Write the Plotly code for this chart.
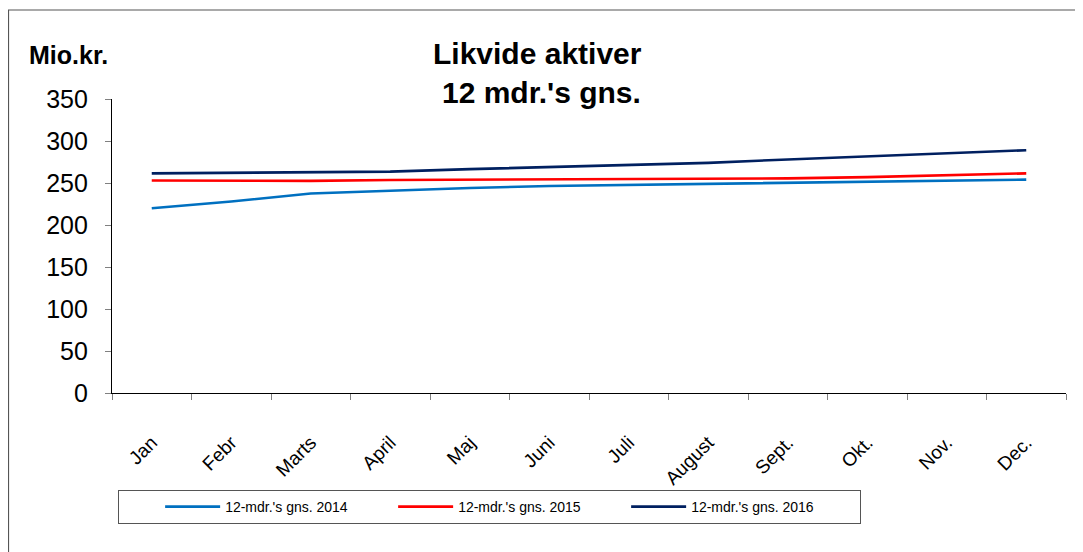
import plotly.graph_objects as go

months = ["Jan", "Febr", "Marts", "April", "Maj", "Juni", "Juli", "August", "Sept.", "Okt.", "Nov.", "Dec."]
s2014 = [220, 228, 237.5, 241, 244, 246.5, 247.7, 248.5, 250, 251, 252.5, 254]
s2015 = [253, 252.5, 252.5, 253.5, 254, 254.5, 255, 255, 255.5, 257, 259, 261.5]
s2016 = [261.5, 262, 262.5, 263.5, 266.5, 269, 271, 274, 278, 281.5, 285, 289]
names = ["12-mdr.'s gns. 2014", "12-mdr.'s gns. 2015", "12-mdr.'s gns. 2016"]
colors = ["#0070C0", "#FF0000", "#002060"]
y_ticks = [0, 50, 100, 150, 200, 250, 300, 350]

# page has an 8px body margin, so figure coords = screen coords - 8
OFF = 8
W, H = 1083 - OFF, 552 - OFF
L, R, T, B = 104, 17, 91, 159
pw, ph = W - L - R, H - T - B


def px(x):
    return (x - OFF - L) / pw


def py(y):
    return (H - B - (y - OFF)) / ph


fig = go.Figure()
for name, vals, col in zip(names, [s2014, s2015, s2016], colors):
    fig.add_trace(go.Scatter(x=months, y=vals, name=name, mode="lines",
                             line=dict(color=col, width=2.6)))

shapes = [
    dict(type="rect", xref="paper", yref="paper", x0=px(8.5), x1=px(1083 + 20), y0=py(10), y1=py(552 + 20),
         fillcolor="white", line=dict(color="#555555", width=1.2), layer="below"),
]

annotations = [
    dict(text="<b>Mio.kr.</b>", xref="paper", yref="paper", x=px(27), y=py(55),
         xanchor="left", yanchor="middle", showarrow=False,
         font=dict(family="Liberation Sans, Arial", size=25, color="black")),
    dict(text="<b>Likvide aktiver<br>\u00a012 mdr.'s gns.</b>", xref="paper", yref="paper",
         x=px(537), y=py(73), xanchor="center", yanchor="middle", showarrow=False,
         font=dict(family="Liberation Sans, Arial", size=30, color="black")),
]

fig.update_layout(
    width=W, height=H,
    margin=dict(l=L, r=R, t=T, b=B),
    paper_bgcolor="white", plot_bgcolor="white",
    font=dict(family="Liberation Sans, Arial", color="black"),
    shapes=shapes, annotations=annotations,
    showlegend=True,
    legend=dict(orientation="h", x=px(118), y=py(490), xanchor="left", yanchor="top",
                bordercolor="#555555", borderwidth=1, bgcolor="white",
                font=dict(size=14), entrywidth=163, entrywidthmode="pixels",
                itemwidth=55, tracegroupgap=0,
                title=dict(text="\u00a0" * 8, side="left", font=dict(size=14))),
    xaxis=dict(type="category", range=[-0.5, 11.5], showline=True, linecolor="black", linewidth=1.2,
               ticks="outside", tickson="boundaries", ticklen=6, tickcolor="#808080",
               tickangle=-45, tickfont=dict(size=19), ticklabelstandoff=30,
               showgrid=False, zeroline=False, fixedrange=True),
    yaxis=dict(range=[0, 350], tickvals=y_ticks, showline=True, linecolor="black", linewidth=1.2,
               ticks="outside", ticklen=6, tickcolor="#808080", tickfont=dict(size=25),
               ticklabelstandoff=12, showgrid=False, zeroline=False),
)

fig.write_html("out.html")
